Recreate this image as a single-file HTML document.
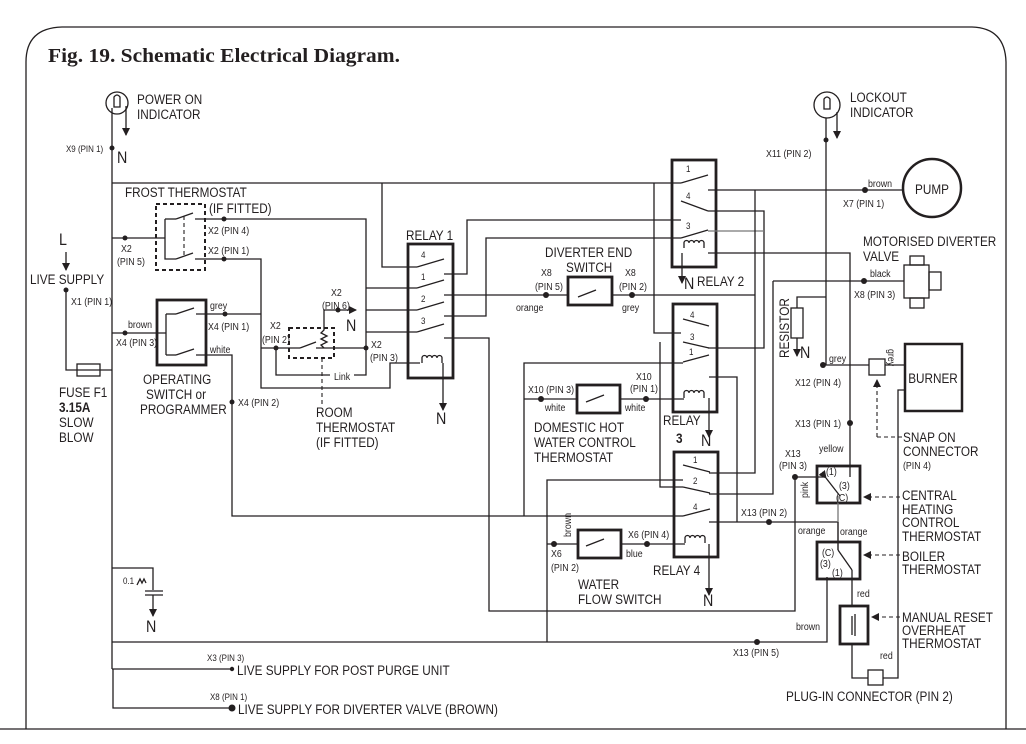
<!DOCTYPE html>
<html><head><meta charset="utf-8"><style>
html,body{margin:0;padding:0;background:#fff}
svg{display:block}
text{font-family:"Liberation Sans Narrow","Liberation Sans",sans-serif;fill:#231f20}
text:not([transform]){transform-box:fill-box;transform-origin:0 50%;transform:scaleX(.84)}
text.m:not([transform]){transform-origin:50% 50%}
text.ti:not([transform]){transform:none}
.t{font-size:14px}
.s{font-size:10.5px}
.xs{font-size:9.5px}
.n{font-size:17px}
.w{stroke:#231f20;stroke-width:1.3;fill:none}
.g{stroke:#777;stroke-width:1.3;fill:none}
.b{stroke:#231f20;stroke-width:2.8;fill:none}
.d{stroke:#231f20;stroke-width:2;fill:none;stroke-dasharray:4 3}
.da{stroke:#231f20;stroke-width:1.1;fill:none;stroke-dasharray:4 3}
</style></head><body>
<svg width="1026" height="744" viewBox="0 0 1026 744" xmlns="http://www.w3.org/2000/svg">
<defs>
<marker id="ar" markerWidth="8" markerHeight="10" refX="7" refY="5" orient="auto" markerUnits="userSpaceOnUse"><path d="M0,1 L8,5 L0,9 Z" fill="#231f20"/></marker>
</defs>
<!-- frame -->
<path d="M26,729 L26,62 Q26,28 62,27 L972,27 Q1005,28 1006,62 L1006,729" class="w" stroke-width="1.4"/>
<line x1="0" y1="729" x2="1026" y2="729" class="w" stroke-width="1.4"/>
<text x="48" y="62" class="ti" textLength="352" lengthAdjust="spacingAndGlyphs" style="font-family:'Liberation Serif',serif;font-weight:bold;font-size:20px">Fig. 19. Schematic Electrical Diagram.</text>

<!-- power on indicator -->
<circle cx="117" cy="103" r="11" class="w"/>
<path d="M114,97 q3,-4 6,0 v10 h-6z" class="w" stroke-width="0.9"/>
<line x1="126" y1="106" x2="126" y2="135" class="w" marker-end="url(#ar)"/>
<text x="137" y="104" class="t">POWER ON</text><text x="137" y="119" class="t">INDICATOR</text>
<text x="66" y="152" class="xs">X9 (PIN 1)</text>
<text x="117" y="163" class="n">N</text>
<circle cx="112" cy="148" r="2.5" fill="#231f20"/>
<line x1="112" y1="108" x2="112" y2="669" class="w"/>

<!-- top bus -->
<polyline points="112,183 681,183" class="w"/>
<polyline points="382,183 382,267 417,267" class="w"/>
<polyline points="654,183 654,333 681,333" class="w"/>

<!-- frost thermostat -->
<rect x="156" y="204" width="49" height="66" class="d"/>
<polyline points="112,238 165,238" class="w"/>
<circle cx="125" cy="238" r="2.5" fill="#231f20"/>
<polyline points="165,219 165,259 176,259" class="w"/>
<line x1="165" y1="219" x2="176" y2="219" class="w"/>
<line x1="176" y1="219" x2="193" y2="213" class="w"/>
<line x1="176" y1="259" x2="193" y2="253" class="w"/>
<line x1="184" y1="216" x2="184" y2="256" class="da"/>
<polyline points="195,219 366,219 366,375 276,375 276,348" class="w"/>
<polyline points="195,259 261,259 261,388 390,388 390,363 420,363" class="w"/>
<circle cx="224" cy="219" r="2.5" fill="#231f20"/><circle cx="224" cy="259" r="2.5" fill="#231f20"/>
<text x="125" y="197" class="t">FROST THERMOSTAT</text>
<text x="209" y="213" class="t" font-size="13">(IF FITTED)</text>
<text x="208" y="234" class="s">X2 (PIN 4)</text>
<text x="208" y="254" class="s">X2 (PIN 1)</text>
<text x="121" y="252" class="s">X2</text><text x="117" y="265" class="s">(PIN 5)</text>

<!-- L live supply / fuse -->
<text x="59" y="245" class="n">L</text>
<line x1="66" y1="252" x2="66" y2="270" class="w" marker-end="url(#ar)"/>
<text x="30" y="284" class="t">LIVE SUPPLY</text>
<circle cx="66" cy="290" r="2.5" fill="#231f20"/>
<polyline points="66,290 66,370 112,370" class="w"/>
<rect x="77" y="364" width="23" height="12" fill="#fff" class="w"/>
<text x="71" y="305" class="s">X1 (PIN 1)</text>
<text x="59" y="397" class="t">FUSE F1</text><text x="59" y="412" class="t" font-weight="bold">3.15A</text>
<text x="59" y="427" class="t">SLOW</text><text x="59" y="442" class="t">BLOW</text>

<!-- operating switch -->
<rect x="157" y="300" width="49" height="65" class="b"/>
<polyline points="112,333 166,333" class="w"/>
<circle cx="125" cy="333" r="2.5" fill="#231f20"/>
<polyline points="166,314 166,355" class="w"/>
<line x1="166" y1="314" x2="176" y2="314" class="w"/><line x1="166" y1="355" x2="176" y2="355" class="w"/>
<line x1="176" y1="314" x2="194" y2="308" class="w"/><line x1="176" y1="355" x2="194" y2="349" class="w"/>
<polyline points="196,314 261,314" class="w"/>
<circle cx="225" cy="314" r="2.5" fill="#231f20"/>
<polyline points="196,355 232,355 232,516 683,516" class="w"/>
<circle cx="232" cy="402" r="2.5" fill="#231f20"/>
<text x="128" y="328" class="s">brown</text><text x="116" y="346" class="s">X4 (PIN 3)</text>
<text x="210" y="309" class="s">grey</text><text x="208" y="330" class="s">X4 (PIN 1)</text>
<text x="210" y="353" class="s">white</text>
<text x="238" y="406" class="s">X4 (PIN 2)</text>
<text x="143" y="384" class="t">OPERATING</text><text x="146" y="399" class="t">SWITCH or</text><text x="140" y="414" class="t">PROGRAMMER</text>

<!-- room thermostat -->
<rect x="289" y="328" width="45" height="30" class="d"/>
<polyline points="261,348 300,348" class="w"/>
<line x1="300" y1="348" x2="316" y2="342" class="w"/>
<polyline points="316,348 366,348" class="w"/>
<path d="M324,348 l-3,-3 l6,-3 l-6,-3 l6,-3 l-6,-3 l3,-3 V310 H356" class="w" marker-end="url(#ar)"/>
<circle cx="338" cy="310" r="2.5" fill="#231f20"/>
<circle cx="276" cy="348" r="2.5" fill="#231f20"/><circle cx="366" cy="348" r="2.5" fill="#231f20"/>
<line x1="322" y1="358" x2="322" y2="405" class="da"/>
<rect x="330" y="369" width="24" height="12" fill="#fff"/>
<text x="334" y="380" class="s">Link</text>
<text x="270" y="329" class="s">X2</text><text x="262" y="343" class="s">(PIN 2)</text>
<text x="331" y="296" class="s">X2</text><text x="322" y="309" class="s">(PIN 6)</text>
<text x="346" y="331" class="n">N</text>
<text x="371" y="348" class="s">X2</text><text x="370" y="361" class="s">(PIN 3)</text>
<text x="316" y="417" class="t">ROOM</text><text x="316" y="432" class="t">THERMOSTAT</text><text x="316" y="447" class="t">(IF FITTED)</text>

<!-- relay 1 -->
<polyline points="366,288 417,288" class="w"/><polyline points="366,310 417,310" class="w"/><polyline points="366,332 417,332" class="w"/>
<rect x="408" y="244" width="45" height="134" class="b"/>
<g class="w">
<line x1="417" y1="267" x2="444" y2="259"/><line x1="417" y1="288" x2="444" y2="280"/>
<line x1="417" y1="310" x2="444" y2="302"/><line x1="417" y1="332" x2="444" y2="324"/>
</g>
<path d="M422,363 v-5 a2.5,2.5 0 0 1 5,0 a2.5,2.5 0 0 1 5,0 a2.5,2.5 0 0 1 5,0 a2.5,2.5 0 0 1 5,0 v5" class="w" stroke-width="1"/>
<line x1="443" y1="363" x2="443" y2="410" class="w" marker-end="url(#ar)"/>
<text x="436" y="424" class="n">N</text>
<text x="406" y="240" class="t" font-size="15">RELAY 1</text>
<text x="421" y="258" class="xs">4</text><text x="421" y="280" class="xs">1</text><text x="421" y="302" class="xs">2</text><text x="421" y="324" class="xs">3</text>
<polyline points="444,274 467,274 467,220 681,220" class="w"/>
<polyline points="444,316 486,316 486,238 681,238" class="w"/>
<polyline points="444,295 568,295" class="w" stroke-width="2"/>
<polyline points="612,295 755,295" class="w" stroke-width="1.6"/>
<polyline points="444,338 489,338 489,611 795,611 795,477 825,477" class="w"/>

<!-- diverter end switch -->
<rect x="568" y="277" width="44" height="28" class="b"/>
<line x1="578" y1="297" x2="596" y2="290" class="w"/>
<circle cx="546" cy="295" r="3" fill="#231f20"/><circle cx="632" cy="295" r="3" fill="#231f20"/>
<text x="545" y="257" class="t">DIVERTER END</text><text x="566" y="272" class="t">SWITCH</text>
<text x="541" y="276" class="s">X8</text><text x="535" y="290" class="s">(PIN 5)</text>
<text x="625" y="276" class="s">X8</text><text x="619" y="290" class="s">(PIN 2)</text>
<text x="516" y="311" class="s">orange</text><text x="622" y="311" class="s">grey</text>

<!-- relay 2 -->
<rect x="672" y="160" width="44" height="107" class="b"/>
<g class="w">
<line x1="681" y1="183" x2="708" y2="175"/><line x1="681" y1="201" x2="708" y2="211"/>
<line x1="681" y1="238" x2="708" y2="230"/>
</g>
<path d="M684,248 v-5 a2.5,2.5 0 0 1 5,0 a2.5,2.5 0 0 1 5,0 a2.5,2.5 0 0 1 5,0 a2.5,2.5 0 0 1 5,0 v5" class="w" stroke-width="1"/>
<line x1="682" y1="253" x2="682" y2="283" class="w" marker-end="url(#ar)"/>
<text x="686" y="172" class="xs">1</text><text x="686" y="199" class="xs">4</text><text x="686" y="229" class="xs">3</text>
<text x="684" y="289" class="n">N</text><text x="697" y="286" class="t" font-size="15">RELAY 2</text>
<polyline points="708,190 905,190" class="w"/>
<polyline points="708,211 764,211 764,348 708,348" class="w"/>
<polyline points="708,231 764,231" class="g"/>
<polyline points="708,253 850,253 850,477" class="w"/>
<polyline points="755,190 755,473 709,473" class="w"/>
<polyline points="773,281 904,281" class="w"/>
<polyline points="773,281 773,494 709,494" class="w"/>

<!-- relay 3 -->
<rect x="673" y="304" width="44" height="108" class="b"/>
<g class="w">
<line x1="709" y1="326" x2="683" y2="319"/><line x1="709" y1="348" x2="683" y2="342"/>
<line x1="683" y1="362" x2="709" y2="355"/>
</g>
<polyline points="660,342 660,487 683,487" class="w"/>
<polyline points="524,516 524,363 683,363" class="w"/>
<polyline points="524,399 577,399" class="w"/>
<polyline points="620,399 684,399" class="w"/>
<path d="M684,398 v-5 a2.5,2.5 0 0 1 5,0 a2.5,2.5 0 0 1 5,0 a2.5,2.5 0 0 1 5,0 a2.5,2.5 0 0 1 5,0 v5" class="w" stroke-width="1"/>
<line x1="709" y1="398" x2="709" y2="437" class="w" marker-end="url(#ar)"/>
<polyline points="709,377 737,377 737,522" class="w"/>
<text x="690" y="318" class="xs">4</text><text x="690" y="340" class="xs">3</text><text x="689" y="355" class="xs">1</text>
<text x="663" y="425" class="t" font-size="15">RELAY</text><text x="676" y="443" class="t" font-size="15" font-weight="bold">3</text>
<text x="701" y="446" class="n">N</text>

<!-- DHW thermostat -->
<rect x="577" y="385" width="43" height="28" class="b"/>
<line x1="586" y1="402" x2="604" y2="395" class="w"/>
<circle cx="541" cy="399" r="3" fill="#231f20"/><circle cx="646" cy="399" r="3" fill="#231f20"/>
<text x="528" y="393" class="s">X10 (PIN 3)</text><text x="545" y="411" class="s">white</text>
<text x="636" y="380" class="s">X10</text><text x="630" y="392" class="s">(PIN 1)</text><text x="625" y="411" class="s">white</text>
<text x="534" y="432" class="t">DOMESTIC HOT</text><text x="534" y="447" class="t">WATER CONTROL</text><text x="534" y="462" class="t">THERMOSTAT</text>

<!-- relay 4 -->
<rect x="674" y="452" width="44" height="105" class="b"/>
<g class="w">
<line x1="710" y1="472" x2="683" y2="465"/><line x1="710" y1="493" x2="683" y2="487"/>
<line x1="683" y1="516" x2="710" y2="509"/>
</g>
<polyline points="547,642 547,480 683,480" class="w"/>
<polyline points="547,544 578,544" class="w"/><polyline points="621,544 685,544" class="w"/>
<path d="M685,543 v-5 a2.5,2.5 0 0 1 5,0 a2.5,2.5 0 0 1 5,0 a2.5,2.5 0 0 1 5,0 a2.5,2.5 0 0 1 5,0 v5" class="w" stroke-width="1"/>
<line x1="709" y1="544" x2="709" y2="595" class="w" marker-end="url(#ar)"/>
<polyline points="709,522 838,522" class="w"/>
<circle cx="769" cy="522" r="3" fill="#231f20"/>
<text x="693" y="463" class="xs">1</text><text x="693" y="484" class="xs">2</text><text x="693" y="510" class="xs">4</text>
<text x="653" y="575" class="t" font-size="15">RELAY 4</text><text x="703" y="606" class="n">N</text>

<!-- water flow switch -->
<rect x="578" y="530" width="43" height="28" class="b"/>
<line x1="586" y1="546" x2="604" y2="539" class="w"/>
<circle cx="554" cy="544" r="3" fill="#231f20"/><circle cx="647" cy="544" r="3" fill="#231f20"/>
<text transform="translate(571,537) rotate(-90) scale(.84,1)" class="s">brown</text>
<text x="628" y="538" class="s">X6 (PIN 4)</text><text x="626" y="557" class="s">blue</text>
<text x="551" y="557" class="s">X6</text><text x="551" y="571" class="s">(PIN 2)</text>
<text x="578" y="589" class="t">WATER</text><text x="578" y="604" class="t">FLOW SWITCH</text>

<!-- lower left -->
<polyline points="112,568 153,568 153,590" class="w"/>
<line x1="145" y1="591" x2="163" y2="591" class="w"/><line x1="145" y1="595" x2="163" y2="595" class="w"/>
<line x1="153" y1="595" x2="153" y2="616" class="w" marker-end="url(#ar)"/>
<text x="123" y="584" class="xs">0.1</text>
<path d="M137,585 l3,-6 l2,4 l2,-4 l2,4" class="w" stroke-width="0.9"/>
<text x="146" y="632" class="n">N</text>
<polyline points="112,642 827,642 827,577" class="w"/>
<circle cx="757" cy="642" r="3" fill="#231f20"/>
<polyline points="112,669 231,669" class="w"/>
<circle cx="232" cy="669" r="2.2" fill="#231f20"/>
<polyline points="113,669 113,708 232,708" class="w" stroke-width="2.2"/>
<circle cx="232" cy="708" r="3.5" fill="#231f20"/>
<text x="207" y="661" class="xs">X3 (PIN 3)</text>
<text x="237" y="675" class="t">LIVE SUPPLY FOR POST PURGE UNIT</text>
<text x="210" y="700" class="xs">X8 (PIN 1)</text>
<text x="238" y="714" class="t">LIVE SUPPLY FOR DIVERTER VALVE (BROWN)</text>

<!-- lockout indicator -->
<circle cx="827" cy="105" r="13" class="w"/>
<path d="M824,99 q3,-4 6,0 v10 h-6z" class="w" stroke-width="0.9"/>
<line x1="837" y1="112" x2="837" y2="138" class="w" marker-end="url(#ar)"/>
<line x1="826" y1="118" x2="826" y2="365" class="w"/>
<circle cx="826" cy="140" r="2.5" fill="#231f20"/>
<text x="766" y="157" class="s">X11 (PIN 2)</text>
<text x="850" y="102" class="t">LOCKOUT</text><text x="850" y="117" class="t">INDICATOR</text>

<!-- pump -->
<circle cx="932" cy="188" r="29" stroke="#231f20" stroke-width="2.5" fill="#fff"/>
<text x="932" y="194" class="t m" text-anchor="middle">PUMP</text>
<circle cx="865" cy="190" r="3" fill="#231f20"/>
<text x="868" y="187" class="s">brown</text><text x="843" y="207" class="s">X7 (PIN 1)</text>

<!-- valve -->
<text x="863" y="246" class="t">MOTORISED DIVERTER</text><text x="863" y="261" class="t">VALVE</text>
<rect x="910" y="256" width="14" height="9" class="w" stroke-width="1.6"/>
<rect x="910" y="298" width="14" height="10" class="w" stroke-width="1.6"/>
<rect x="929" y="272" width="12" height="18" class="w" stroke-width="1.6"/>
<rect x="904" y="265" width="25" height="33" fill="#fff" class="w" stroke-width="1.6"/>
<circle cx="864" cy="281" r="3" fill="#231f20"/>
<text x="870" y="277" class="s">black</text><text x="854" y="298" class="s">X8 (PIN 3)</text>

<!-- resistor -->
<polyline points="826,297 797,297 797,308" class="w"/>
<rect x="791" y="308" width="12" height="30" class="w" stroke-width="1.6"/>
<line x1="797" y1="338" x2="797" y2="356" class="w" marker-end="url(#ar)"/>
<text x="800" y="358" class="n">N</text>
<text transform="translate(789,358) rotate(-90) scale(.84,1)" class="t">RESISTOR</text>

<!-- burner / snap -->
<polyline points="826,365 869,365" class="w"/><polyline points="885,365 905,365" class="w"/>
<circle cx="823" cy="365" r="3" fill="#231f20"/>
<rect x="869" y="359" width="16" height="16" class="w" stroke-width="1.6"/>
<text transform="translate(888,349) rotate(90) scale(.84,1)" class="s">grey</text>
<text x="829" y="362" class="s">grey</text><text x="795" y="386" class="s">X12 (PIN 4)</text>
<rect x="905" y="344" width="57" height="67" stroke="#231f20" stroke-width="2.5" fill="#fff"/>
<text x="933" y="383" class="t m" text-anchor="middle">BURNER</text>
<polyline points="905,390 898,390 898,678 883,678" class="w"/>
<line x1="877" y1="437" x2="877" y2="380" class="da" marker-end="url(#ar)"/>
<line x1="877" y1="437" x2="902" y2="437" class="da"/>
<text x="903" y="442" class="t">SNAP ON</text><text x="903" y="456" class="t">CONNECTOR</text><text x="903" y="469" class="s" font-size="12">(PIN 4)</text>
<circle cx="850" cy="423" r="3" fill="#231f20"/>
<text x="795" y="427" class="s">X13 (PIN 1)</text>

<!-- CH thermostat -->
<rect x="817" y="466" width="43" height="37" class="b"/>
<circle cx="795" cy="477" r="3" fill="#231f20"/>
<line x1="826" y1="478" x2="840" y2="496" class="w" marker-start="url(#ar)"/>
<polyline points="838,496 838,550" class="g"/>
<polyline points="838,522 838,550" class="w"/>
<text x="819" y="452" class="s">yellow</text>
<text x="785" y="457" class="s">X13</text><text x="779" y="469" class="s">(PIN 3)</text>
<text transform="translate(808,498) rotate(-90) scale(.84,1)" class="s">pink</text>
<text x="826" y="475" class="s">(1)</text><text x="839" y="489" class="s">(3)</text><text x="836" y="501" class="s">(C)</text>
<line x1="900" y1="497" x2="864" y2="497" class="da" marker-end="url(#ar)"/>
<text x="902" y="500" class="t">CENTRAL</text><text x="902" y="514" class="t">HEATING</text><text x="902" y="527" class="t">CONTROL</text><text x="902" y="541" class="t">THERMOSTAT</text>
<text x="741" y="516" class="s">X13 (PIN 2)</text>
<text x="798" y="534" class="s">orange</text><text x="840" y="535" class="s">orange</text>

<!-- boiler thermostat -->
<rect x="817" y="542" width="43" height="37" class="b"/>
<line x1="838" y1="550" x2="852" y2="570" class="w"/>
<line x1="852" y1="570" x2="852" y2="606" class="w"/>
<text x="822" y="556" class="s">(C)</text><text x="820" y="567" class="s">(3)</text><text x="832" y="576" class="s">(1)</text>
<line x1="900" y1="555" x2="864" y2="555" class="da" marker-end="url(#ar)"/>
<text x="902" y="561" class="t">BOILER</text><text x="902" y="574" class="t">THERMOSTAT</text>
<text x="857" y="597" class="s">red</text>

<!-- manual reset -->
<rect x="840" y="606" width="28" height="38" class="b"/>
<line x1="852" y1="616" x2="852" y2="635" class="w"/>
<line x1="855" y1="614" x2="855" y2="636" class="w"/>
<polyline points="852,644 852,678 868,678" class="w"/>
<rect x="868" y="670" width="15" height="15" class="w" stroke-width="1.4"/>
<line x1="900" y1="617" x2="872" y2="617" class="da" marker-end="url(#ar)"/>
<text x="902" y="622" class="t">MANUAL RESET</text><text x="902" y="635" class="t">OVERHEAT</text><text x="902" y="648" class="t">THERMOSTAT</text>
<text x="796" y="630" class="s">brown</text><text x="733" y="656" class="s">X13 (PIN 5)</text>
<text x="880" y="659" class="s">red</text>
<text x="786" y="701" class="t">PLUG-IN CONNECTOR (PIN 2)</text>
</svg>
</body></html>
